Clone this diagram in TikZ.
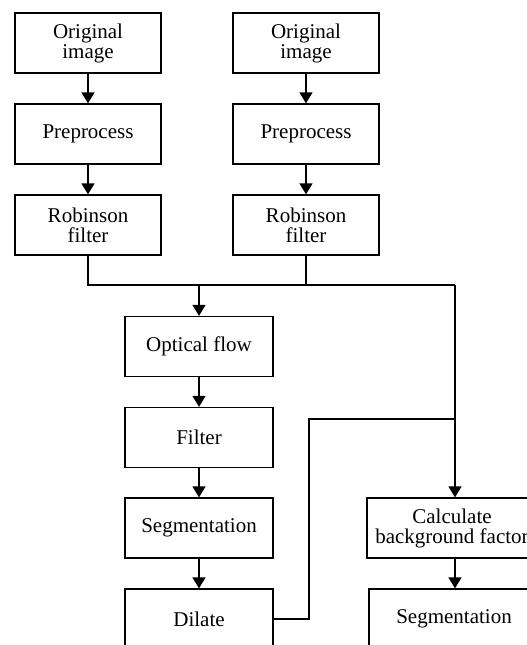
\documentclass[tikz,border=0pt]{standalone}
\usepackage{fontspec}
\setmainfont{Liberation Serif}
\usetikzlibrary{arrows.meta}
\begin{document}
\begin{tikzpicture}[x=1pt,y=-1pt,
  box/.style={draw, line width=1.3pt, minimum width=146pt, minimum height=60pt, inner sep=0pt, align=center, font=\fontsize{21}{20}\selectfont},
  conn/.style={line width=1.3pt},
  arr/.style={conn, -{Triangle[width=13pt,length=11pt]}}]
\useasboundingbox (0,0) rectangle (527,645);
\clip (0,0) rectangle (527,645);
\node[box] (o1) at (88,43) {Original\\image};
\node[box] (p1) at (88,134) {Preprocess};
\node[box] (r1) at (88,225) {Robinson\\filter};
\node[box] (o2) at (306,43) {Original\\image};
\node[box] (p2) at (306,134) {Preprocess};
\node[box] (r2) at (306,225) {Robinson\\filter};
\node[box, minimum width=148pt] (of) at (199,346.5) {Optical flow};
\node[box, minimum width=148pt] (fi) at (199,437.5) {Filter};
\node[box, minimum width=148pt] (sg) at (199,528) {Segmentation};
\node[box, minimum width=148pt] (dl) at (199,619) {Dilate};
\node[box, minimum width=170pt] (cb) at (452,528) {Calculate\\background factor};
\node[box, minimum width=170pt] (s2) at (454,619) {Segmentation};
\coordinate (busR) at (455,285);
\coordinate (j) at (309,419);
\draw[arr] (o1) -- (p1);
\draw[arr] (p1) -- (r1);
\draw[arr] (o2) -- (p2);
\draw[arr] (p2) -- (r2);
\draw[conn] (r1.south) |- (busR);
\draw[conn] (r2.south) -- (r2.south |- busR);
\draw[arr] (of.north |- busR) -- (of.north);
\draw[arr] (busR) -- (busR |- cb.north);
\draw[arr] (of) -- (fi);
\draw[arr] (fi) -- (sg);
\draw[arr] (sg) -- (dl);
\draw[conn] (dl.east) -| (j) -- (j -| busR);
\draw[arr] (cb.south -| busR) -- (s2.north -| busR);
\end{tikzpicture}
\end{document}
